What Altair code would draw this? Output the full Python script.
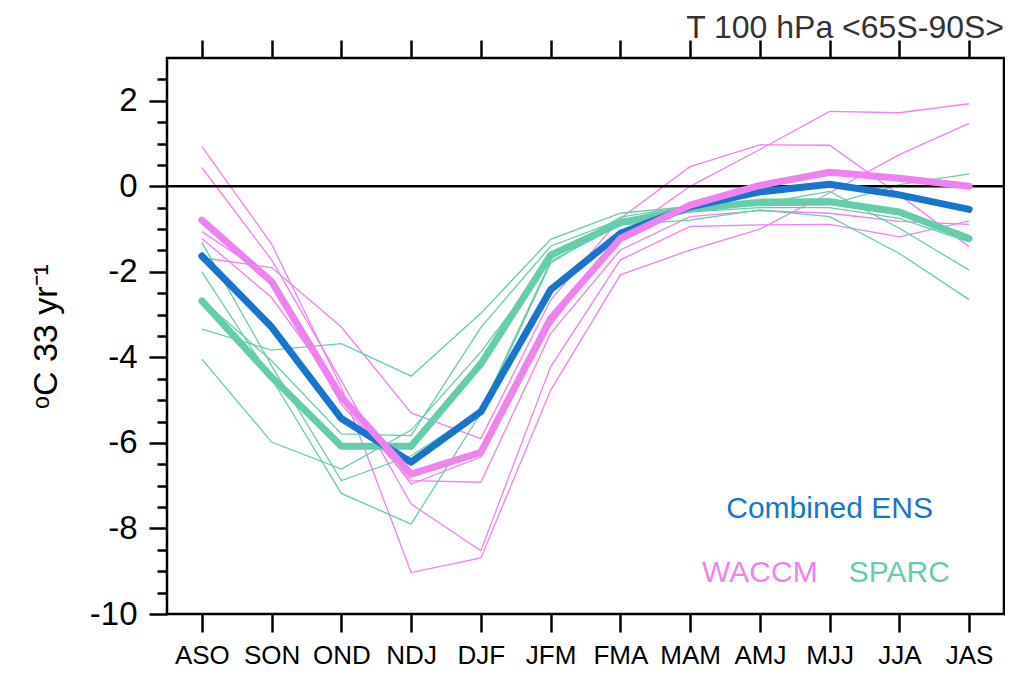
import altair as alt
import pandas as pd

MONTHS = ["ASO", "SON", "OND", "NDJ", "DJF", "JFM", "FMA", "MAM", "AMJ", "MJJ", "JJA", "JAS"]

# ensemble means
ENS_MEAN = [-1.63, -3.29, -5.43, -6.45, -5.27, -2.42, -1.10, -0.48, -0.13, 0.05, -0.20, -0.54]
WACCM_MEAN = [-0.79, -2.23, -4.93, -6.73, -6.22, -3.09, -1.22, -0.44, 0.02, 0.33, 0.19, 0.00]
SPARC_MEAN = [-2.68, -4.46, -6.08, -6.08, -4.15, -1.61, -0.85, -0.53, -0.37, -0.36, -0.60, -1.22]

# individual WACCM members
WACCM_1 = [0.93, -1.35, -4.70, -9.03, -8.69, -4.77, -2.07, -1.49, -1.00, -0.15, 0.74, 1.47]
WACCM_2 = [0.44, -1.72, -4.55, -7.43, -8.52, -4.22, -1.72, -0.94, -0.90, -0.89, -1.18, -0.81]
WACCM_3 = [-1.06, -2.15, -5.10, -6.88, -6.92, -3.44, -1.49, -0.71, -0.57, -0.63, -0.82, -0.89]
WACCM_4 = [-1.22, -2.60, -4.85, -6.96, -6.33, -3.25, -1.15, 0.00, 0.86, 1.75, 1.72, 1.93]
WACCM_5 = [-1.67, -1.90, -3.29, -5.30, -5.90, -2.66, -0.75, 0.46, 0.97, 0.96, -0.20, -1.41]

# individual SPARC members
SPARC_1 = [-1.31, -4.20, -6.88, -6.30, -5.24, -1.75, -0.90, -0.79, -0.55, -0.71, -1.57, -2.65]
SPARC_2 = [-2.00, -4.50, -7.18, -7.90, -5.30, -1.80, -0.78, -0.60, -0.50, -0.50, -0.75, -1.30]
SPARC_3 = [-3.34, -3.83, -3.68, -4.44, -2.97, -1.24, -0.63, -0.47, -0.45, -0.43, 0.04, 0.29]
SPARC_4 = [-4.04, -5.98, -6.61, -5.70, -3.87, -1.70, -0.72, -0.46, -0.40, -0.12, -0.98, -1.96]
SPARC_5 = [-2.65, -4.08, -5.79, -5.83, -3.30, -1.40, -0.78, -0.55, -0.35, -0.30, -0.60, -1.15]

LABEL_TEXT = ["Combined ENS", "WACCM", "SPARC"]
LABEL_MONTH = ["MJJ", "AMJ", "JJA"]
LABEL_Y = [-7.54, -9.03, -9.03]
LABEL_GROUP = ["ENS", "WACCM", "SPARC"]

GROUPS = ["WACCM", "SPARC", "ENS"]
LINE_COLORS = ["#EE82EE", "#66CDAA", "#1874CD"]
TEXT_COLORS = ["#EE82EE", "#66CDAA", "#1E8AF0"]

FONT = "Liberation Sans"

thin_rows = []
for name, vals, grp in [
    ("W1", WACCM_1, "WACCM"), ("W2", WACCM_2, "WACCM"), ("W3", WACCM_3, "WACCM"),
    ("W4", WACCM_4, "WACCM"), ("W5", WACCM_5, "WACCM"),
    ("S1", SPARC_1, "SPARC"), ("S2", SPARC_2, "SPARC"), ("S3", SPARC_3, "SPARC"),
    ("S4", SPARC_4, "SPARC"), ("S5", SPARC_5, "SPARC"),
]:
    for m, v in zip(MONTHS, vals):
        thin_rows.append({"series": name, "group": grp, "month": m, "value": v})
thin_df = pd.DataFrame(thin_rows)

thick_rows = []
for order, (name, vals) in enumerate([("SPARC", SPARC_MEAN), ("ENS", ENS_MEAN), ("WACCM", WACCM_MEAN)]):
    for m, v in zip(MONTHS, vals):
        thick_rows.append({"series": name, "group": name, "month": m, "value": v, "ord": order})
thick_df = pd.DataFrame(thick_rows)

label_df = pd.DataFrame({"text": LABEL_TEXT, "month": LABEL_MONTH, "value": LABEL_Y, "group": LABEL_GROUP})
zero_df = pd.DataFrame({"value": [0.0]})

xscale = alt.Scale(type="point", domain=MONTHS, padding=0.5)
yscale = alt.Scale(domain=[-10, 3], nice=False, zero=False)
color_scale = alt.Scale(domain=GROUPS, range=LINE_COLORS)
text_scale = alt.Scale(domain=GROUPS, range=TEXT_COLORS)

minor_vals = [-10 + 0.5 * i for i in range(26)]
tick_cond = {"condition": {"test": "datum.value % 2 === 0", "value": 18}, "value": 10}

x_bottom = alt.Axis(orient="bottom", title=None, labelAngle=0, labelFont=FONT, labelFontSize=26,
                    labelColor="black", labelPadding=10, tickSize=18, tickWidth=2.5, tickColor="black",
                    domain=False, grid=False)
y_left = alt.Axis(orient="left", title="ᵒC 33 yr⁻¹", titleFont=FONT, titleFontSize=34,
                  titleFontWeight="normal", titleColor="black", titlePadding=26,
                  values=minor_vals, labelExpr="datum.value % 2 === 0 ? toString(datum.value) : ''",
                  labelFont=FONT, labelFontSize=33, labelColor="black", labelPadding=12,
                  tickSize=tick_cond, tickWidth=2.5, tickColor="black", domain=False, grid=False)
x_top = alt.Axis(orient="top", title=None, labels=False, tickSize=18, tickWidth=2.5,
                 tickColor="black", domain=False, grid=False)
y_right = alt.Axis(orient="right", title=None, labels=False, values=minor_vals,
                   tickSize=tick_cond, tickWidth=2.5, tickColor="black", domain=False, grid=False)

thin = alt.Chart(thin_df).mark_line(strokeWidth=1.3).encode(
    x=alt.X("month:N", scale=xscale, sort=MONTHS, axis=x_bottom),
    y=alt.Y("value:Q", scale=yscale, axis=y_left),
    color=alt.Color("group:N", scale=color_scale, legend=None),
    detail="series:N",
)

zero = alt.Chart(zero_df).mark_rule(color="black", strokeWidth=2.5).encode(
    y=alt.Y("value:Q", scale=yscale, axis=None),
)

thick = alt.Chart(thick_df).mark_line(strokeWidth=7, strokeCap="round", strokeJoin="round").encode(
    x=alt.X("month:N", scale=xscale, sort=MONTHS, axis=x_top),
    y=alt.Y("value:Q", scale=yscale, axis=y_right),
    color=alt.Color("group:N", scale=color_scale, legend=None),
    detail="series:N",
    order=alt.Order("ord:Q"),
)

labels = alt.Chart(label_df).mark_text(font=FONT, fontSize=30, align="center", baseline="middle").encode(
    x=alt.X("month:N", scale=xscale, sort=MONTHS, axis=None),
    y=alt.Y("value:Q", scale=yscale, axis=None),
    text="text:N",
    color=alt.Color("group:N", scale=text_scale, legend=None),
)

chart = alt.layer(thin, zero, thick, labels).resolve_axis(
    x="independent", y="independent"
).properties(
    width=837,
    height=556,
    title=alt.TitleParams(text="T 100 hPa <65S-90S>", anchor="end", frame="group", font=FONT,
                          fontSize=32, fontWeight="normal", color="#333333", offset=-6),
    padding={"left": 159, "top": 50, "right": 1, "bottom": 56},
    autosize=alt.AutoSizeParams(type="none"),
).configure_view(stroke="black", strokeWidth=2.5)

chart.save("out.html", embed_options={"renderer": "svg", "actions": False})
